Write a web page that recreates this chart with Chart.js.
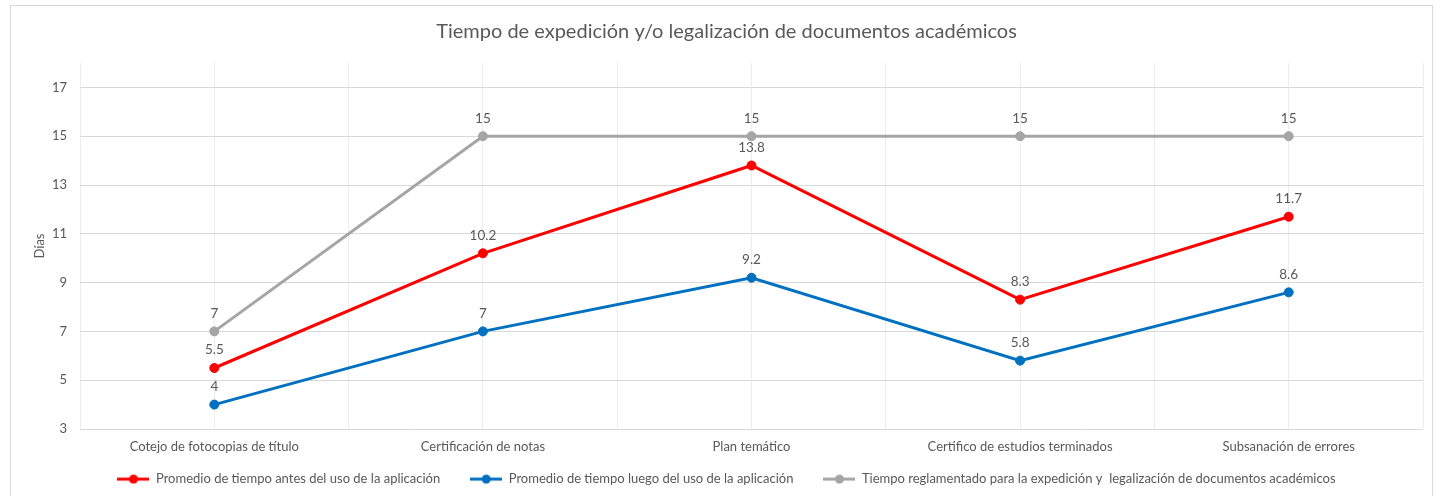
<!DOCTYPE html>
<html>
<head>
<meta charset="utf-8">
<script src="https://cdn.jsdelivr.net/npm/chart.js@4"></script>
<style>
  html, body { margin: 0; padding: 0; background: #fff; }
  #wrap { width: 1444px; height: 496px; }
</style>
</head>
<body>
<div id="wrap"><canvas id="lineChart" width="1444" height="496"></canvas></div>
<script>
const categories = ['Cotejo de fotocopias de título', 'Certificación de notas', 'Plan temático', 'Certifico de estudios terminados', 'Subsanación de errores'];
const antes = [5.5, 10.2, 13.8, 8.3, 11.7];
const luego = [4, 7, 9.2, 5.8, 8.6];
const reglamentado = [7, 15, 15, 15, 15];
const yTicks = [3, 5, 7, 9, 11, 13, 15, 17];

const FONT = 'Lato, "Open Sans", sans-serif';
const TEXT = '#595959';

// little line+dot markers for the legend
function legendMarker(color) {
    const c = document.createElement('canvas');
    c.width = 32; c.height = 12;
    const g = c.getContext('2d');
    g.strokeStyle = color; g.lineWidth = 3;
    g.beginPath(); g.moveTo(0, 6); g.lineTo(32, 6); g.stroke();
    g.fillStyle = color;
    g.beginPath(); g.arc(16, 6, 4.5, 0, Math.PI * 2); g.fill();
    return c;
}

const frame = {
    id: 'frame',
    beforeDraw(chart) {
        const ctx = chart.ctx;
        ctx.save();
        ctx.fillStyle = '#fff';
        ctx.fillRect(0, 0, chart.width, chart.height);
        ctx.strokeStyle = '#d9d9d9';
        ctx.lineWidth = 1;
        ctx.strokeRect(10.5, 5.5, 1422, 500);
        ctx.restore();
    }
};

// legend padding is large for the gaps between items; pull the row up a bit
const legendNudge = {
    id: 'legendNudge',
    afterLayout(chart) {
        if (chart.legend) {
            chart.legend.top -= 22;
            chart.legend.bottom -= 22;
        }
    }
};

const valueLabels = {
    id: 'valueLabels',
    afterDatasetsDraw(chart) {
        const ctx = chart.ctx;
        ctx.save();
        ctx.font = '13.5px ' + FONT;
        ctx.fillStyle = TEXT;
        ctx.textAlign = 'center';
        ctx.textBaseline = 'middle';
        chart.data.datasets.forEach((ds, i) => {
            chart.getDatasetMeta(i).data.forEach((pt, j) => {
                ctx.fillText(String(ds.data[j]), pt.x, pt.y - 18);
            });
        });
        ctx.restore();
    }
};

document.addEventListener('DOMContentLoaded', function() {
    const ctx = document.getElementById('lineChart');
    const markers = ['#ff0000', '#0070c0', '#a5a5a5'].map(legendMarker);

    new Chart(ctx, {
        type: 'line',
        data: {
            labels: categories,
            datasets: [{
                label: 'Promedio de tiempo antes del uso de la aplicación',
                data: antes,
                borderColor: '#ff0000',
                backgroundColor: '#ff0000'
            }, {
                label: 'Promedio de tiempo luego del uso de la aplicación',
                data: luego,
                borderColor: '#0070c0',
                backgroundColor: '#0070c0'
            }, {
                label: 'Tiempo reglamentado para la expedición y  legalización de documentos académicos',
                data: reglamentado,
                borderColor: '#a5a5a5',
                backgroundColor: '#a5a5a5'
            }]
        },
        options: {
            responsive: false,
            animation: false,
            elements: {
                line: { borderWidth: 3, tension: 0 },
                point: { radius: 4.5, hoverRadius: 4.5 }
            },
            layout: { padding: { left: 30, right: 21, top: 12, bottom: -21.6 } },
            plugins: {
                title: {
                    display: true,
                    text: 'Tiempo de expedición y/o legalización de documentos académicos',
                    color: TEXT,
                    font: { family: FONT, size: 20, weight: 'normal' },
                    padding: { top: 8, bottom: 19 }
                },
                legend: {
                    position: 'bottom',
                    labels: {
                        color: TEXT,
                        font: { family: FONT, size: 13 },
                        usePointStyle: true,
                        pointStyleWidth: 32,
                        padding: 30,
                        generateLabels(chart) {
                            const items = Chart.defaults.plugins.legend.labels.generateLabels(chart);
                            items.forEach((it, i) => { it.pointStyle = markers[i]; });
                            return items;
                        }
                    }
                },
                tooltip: { enabled: false }
            },
            scales: {
                x: {
                    offset: true,
                    grid: { color: '#ededed', drawTicks: false },
                    border: { display: false },
                    ticks: { color: TEXT, font: { family: FONT, size: 13 }, padding: 10, maxRotation: 0 }
                },
                x2: {
                    type: 'linear',
                    position: 'bottom',
                    min: -0.5,
                    max: 4.5,
                    grid: { color: '#ededed', drawTicks: false },
                    border: { display: false },
                    ticks: { display: false, stepSize: 1 }
                },
                y: {
                    min: 3,
                    max: 18,
                    afterBuildTicks(scale) {
                        scale.ticks = yTicks.map(v => ({ value: v }));
                    },
                    afterFit(scale) { scale.width = 50; },
                    grid: { color: '#d9d9d9', drawTicks: false },
                    border: { display: false },
                    ticks: { color: TEXT, font: { family: FONT, size: 13 }, padding: 13 },
                    title: {
                        display: true,
                        text: 'Días',
                        color: TEXT,
                        font: { family: FONT, size: 13 },
                        padding: { top: 2, bottom: 0 }
                    }
                }
            }
        },
        plugins: [frame, legendNudge, valueLabels]
    });
});
</script>
</body>
</html>
